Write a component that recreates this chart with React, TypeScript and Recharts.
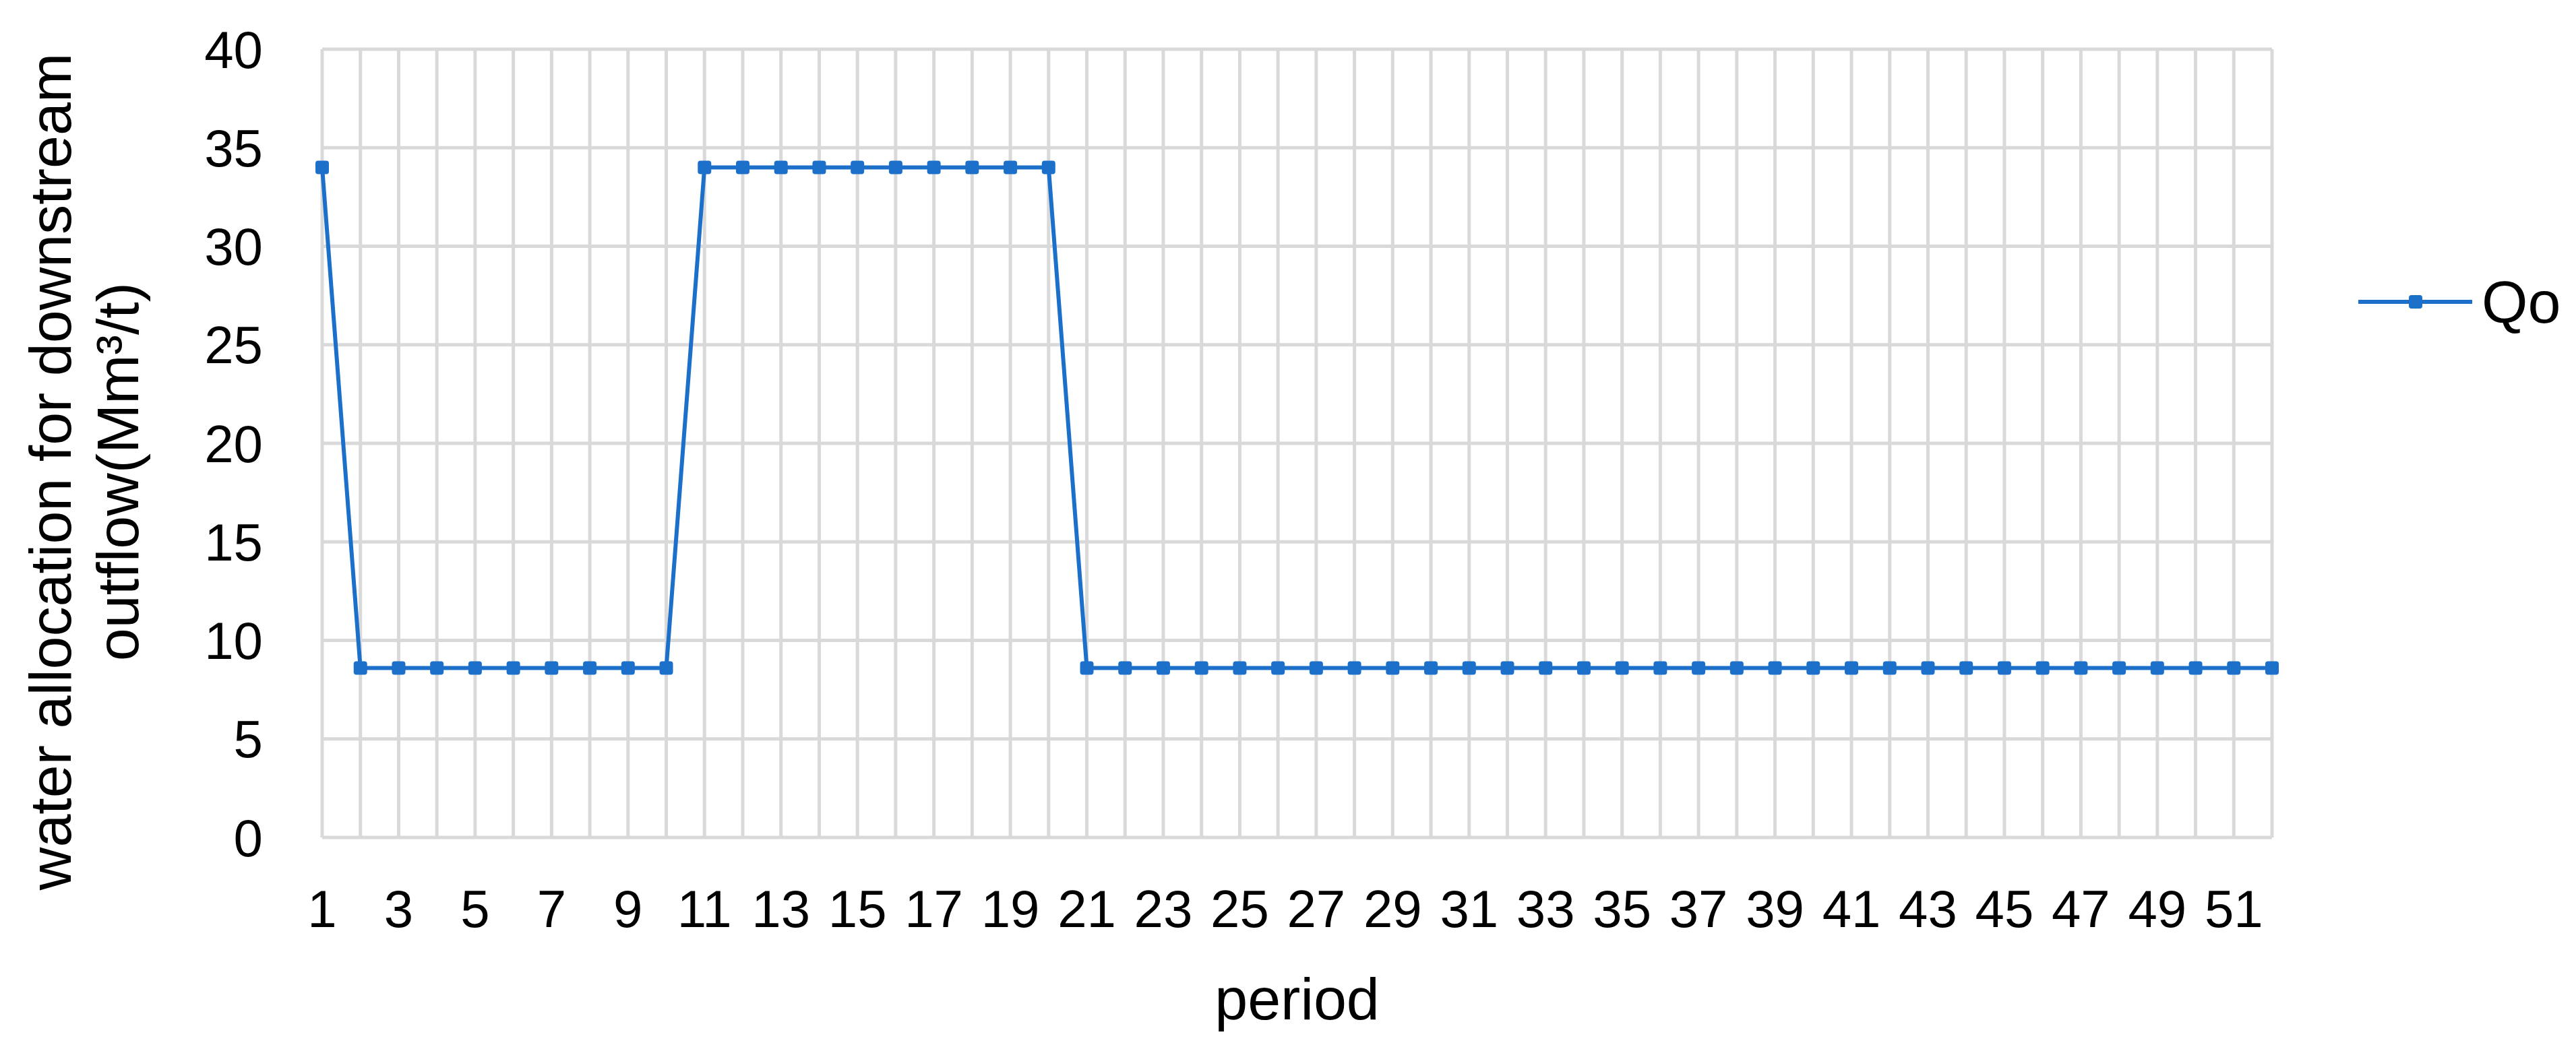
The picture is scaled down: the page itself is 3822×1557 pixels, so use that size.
import { LineChart, Line, XAxis, YAxis, CartesianGrid, Legend } from "recharts"

const periods = [
  1, 2, 3, 4, 5, 6, 7, 8, 9, 10, 11, 12, 13, 14, 15, 16, 17, 18, 19, 20, 21, 22, 23, 24, 25, 26,
  27, 28, 29, 30, 31, 32, 33, 34, 35, 36, 37, 38, 39, 40, 41, 42, 43, 44, 45, 46, 47, 48, 49, 50, 51, 52,
]
const qo = [
  34, 8.6, 8.6, 8.6, 8.6, 8.6, 8.6, 8.6, 8.6, 8.6,
  34, 34, 34, 34, 34, 34, 34, 34, 34, 34,
  8.6, 8.6, 8.6, 8.6, 8.6, 8.6, 8.6, 8.6, 8.6, 8.6, 8.6, 8.6, 8.6, 8.6, 8.6, 8.6,
  8.6, 8.6, 8.6, 8.6, 8.6, 8.6, 8.6, 8.6, 8.6, 8.6, 8.6, 8.6, 8.6, 8.6, 8.6, 8.6,
]
const yTicks = [0, 5, 10, 15, 20, 25, 30, 35, 40]
const seriesName = "Qo"
const xTitle = "period"
const yTitle = ["water allocation for downstream", "outflow(Mm³/t)"]

const data = periods.map((p, i) => ({ period: p, qo: qo[i] }))

const BLUE = "#1C70C9"
const GRID = "#D9D9D9"
const FONT = "'Liberation Sans', Arial, sans-serif"

// excel-ish small square marker
function SquareDot(props: any) {
  const { cx, cy, index } = props
  if (cx == null || cy == null) return null
  return <rect key={index} x={cx - 10} y={cy - 10} width={20} height={20} rx={4} fill={BLUE} />
}

function YTitle() {
  return (
    <g>
      <text x={105} y={700} transform="rotate(-90, 105, 700)" textAnchor="middle" fontSize={88} fill="#000">
        {yTitle[0]}
      </text>
      <text x={205} y={700} transform="rotate(-90, 205, 700)" textAnchor="middle" fontSize={88} fill="#000">
        {yTitle[1]}
      </text>
    </g>
  )
}

function XTitle(props: any) {
  const vb = props.viewBox
  return (
    <text x={vb.x + vb.width / 2} y={1513} textAnchor="middle" fontSize={88} fill="#000">
      {xTitle}
    </text>
  )
}

function LegendBox() {
  return (
    <svg width={340} height={100} style={{ fontFamily: FONT, display: "block" }}>
      <line x1={9} y1={50} x2={178} y2={50} stroke={BLUE} strokeWidth={6} />
      <rect x={84} y={40} width={20} height={20} rx={4} fill={BLUE} />
      <text x={192} y={50} dominantBaseline="central" fontSize={88} fill="#000">
        {seriesName}
      </text>
    </svg>
  )
}

export default function App() {
  return (
    <div style={{ position: "absolute", left: 0, top: 0, width: 3822, height: 1557, background: "#fff", fontFamily: FONT }}>
      <LineChart
        width={3822}
        height={1557}
        data={data}
        margin={{ top: 73, right: 451, left: 328, bottom: 164 }}
        style={{ fontFamily: FONT }}
      >
        <CartesianGrid stroke={GRID} strokeWidth={5} />
        <XAxis
          dataKey="period"
          type="category"
          interval={0}
          height={150}
          axisLine={false}
          tickLine={false}
          tickSize={0}
          tickMargin={78}
          tick={{ fontSize: 78, fill: "#000" }}
          tickFormatter={(v: any, i: number) => (i % 2 === 0 ? String(v) : "")}
          label={(p: any) => <XTitle {...p} />}
        />
        <YAxis
          domain={[0, 40]}
          ticks={yTicks}
          width={150}
          axisLine={false}
          tickLine={false}
          tickSize={0}
          tickMargin={88}
          tick={{ fontSize: 78, fill: "#000" }}
          label={() => <YTitle />}
        />
        <Legend
          layout="horizontal"
          verticalAlign="middle"
          align="center"
          wrapperStyle={{ left: 3490, top: 398, width: 340, height: 100 }}
          content={() => <LegendBox />}
        />
        <Line
          type="linear"
          dataKey="qo"
          name={seriesName}
          stroke={BLUE}
          strokeWidth={6}
          dot={(p: any) => <SquareDot {...p} />}
          activeDot={false}
          isAnimationActive={false}
        />
      </LineChart>
    </div>
  )
}
